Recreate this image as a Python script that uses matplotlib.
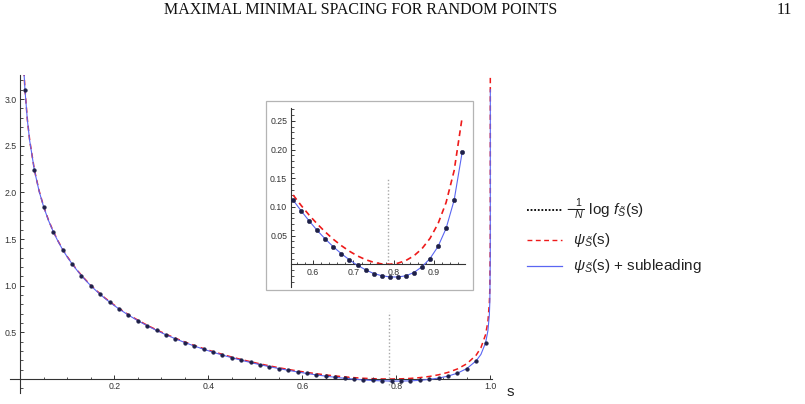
import matplotlib
matplotlib.use("Agg")
import matplotlib.pyplot as plt
from matplotlib.lines import Line2D
from matplotlib.patches import Rectangle
from matplotlib.ticker import MultipleLocator, FixedLocator, FixedFormatter
import numpy as np

# ---------------- data ----------------
s_curve = [0.006, 0.007, 0.008, 0.01, 0.015, 0.02, 0.03, 0.04, 0.05, 0.06, 0.07, 0.08, 0.09, 0.10,
           0.11, 0.12, 0.13, 0.14, 0.15, 0.16, 0.17, 0.18, 0.19, 0.20, 0.21, 0.23, 0.25, 0.27, 0.29,
           0.31, 0.33, 0.35, 0.37, 0.39, 0.41, 0.43, 0.45, 0.47, 0.49, 0.51, 0.53, 0.55, 0.57, 0.59,
           0.61, 0.63, 0.65, 0.67, 0.69, 0.71, 0.73, 0.75, 0.77, 0.79, 0.81, 0.83, 0.85, 0.87, 0.89,
           0.91, 0.93, 0.95, 0.97, 0.98, 0.99, 0.995, 0.998, 0.999, 0.9999, 0.99999, 0.999999,
           0.9999999, 0.99999999]

# leading order psi_S(s)  (red dashed)
psi_leading = [3.499, 3.379, 3.274, 3.099, 2.782, 2.557, 2.241, 2.017, 1.844, 1.703, 1.584, 1.482, 1.391, 1.311,
               1.239, 1.173, 1.112, 1.057, 1.005, 0.957, 0.912, 0.869, 0.830, 0.792, 0.756, 0.690, 0.631, 0.576, 0.526,
               0.480, 0.437, 0.397, 0.360, 0.326, 0.294, 0.264, 0.235, 0.209, 0.185, 0.162, 0.141, 0.1209, 0.1026, 0.0857,
               0.0703, 0.0563, 0.0436, 0.0325, 0.0228, 0.0146, 0.0082, 0.0035, 0.0007, 0.0001, 0.0019, 0.0066, 0.0148,
               0.0272, 0.0452, 0.0708, 0.1077, 0.1632, 0.2564, 0.335, 0.476, 0.621, 0.815, 0.963, 1.457, 1.951, 2.445,
               2.939, 3.433]

# psi_S(s) + subleading  (blue solid)
psi_sub = [3.495, 3.375, 3.270, 3.095, 2.778, 2.553, 2.237, 2.013, 1.840, 1.699, 1.580, 1.478, 1.387, 1.307,
           1.235, 1.169, 1.108, 1.052, 1.000, 0.952, 0.907, 0.864, 0.825, 0.787, 0.751, 0.685, 0.625, 0.571, 0.520,
           0.474, 0.431, 0.391, 0.354, 0.319, 0.287, 0.2566, 0.2282, 0.2017, 0.1770, 0.1537, 0.1321, 0.1120, 0.0932,
           0.0755, 0.0590, 0.0440, 0.0305, 0.0184, 0.0078, -0.0018, -0.0095, -0.0160, -0.0198, -0.0220, -0.0221,
           -0.0200, -0.0143, -0.0043, 0.0100, 0.0311, 0.0626, 0.1118, 0.1955, 0.263, 0.389, 0.52, 0.69, 0.83, 1.29,
           1.74, 2.19, 2.65, 3.10]

# sampled -1/N log f_S(s)  (black points)
s_points = [0.01, 0.03, 0.05, 0.07, 0.09, 0.11, 0.13, 0.15, 0.17, 0.19, 0.21, 0.23, 0.25, 0.27, 0.29,
            0.31, 0.33, 0.35, 0.37, 0.39, 0.41, 0.43, 0.45, 0.47, 0.49, 0.51, 0.53, 0.55, 0.57, 0.59,
            0.61, 0.63, 0.65, 0.67, 0.69, 0.71, 0.73, 0.75, 0.77, 0.79, 0.81, 0.83, 0.85, 0.87, 0.89,
            0.91, 0.93, 0.95, 0.97, 0.99]
logf_points = [3.095, 2.237, 1.840, 1.580, 1.387, 1.235, 1.108, 1.000, 0.907, 0.825, 0.751, 0.685, 0.625, 0.571,
               0.520, 0.474, 0.431, 0.391, 0.354, 0.319, 0.287, 0.2566, 0.2282, 0.2017, 0.1770, 0.1537, 0.1321,
               0.1120, 0.0932, 0.0755, 0.0590, 0.0440, 0.0305, 0.0184, 0.0078, -0.0018, -0.0095, -0.0160, -0.0198,
               -0.0220, -0.0221, -0.0200, -0.0143, -0.0043, 0.0100, 0.0311, 0.0626, 0.1118, 0.1955, 0.389]

s_star = 0.785          # position of the grey dotted marker
main_marker_y = [-0.06, 0.72]
inset_marker_y = [0.0, 0.15]
inset_range = [0.55, 0.97]

main_xticks = [0.2, 0.4, 0.6, 0.8, 1.0]
main_xlabels = ["0.2", "0.4", "0.6", "0.8", "1.0"]
main_yticks = [0.5, 1.0, 1.5, 2.0, 2.5, 3.0]
main_ylabels = ["0.5", "1.0", "1.5", "2.0", "2.5", "3.0"]
inset_xticks = [0.6, 0.7, 0.8, 0.9]
inset_xlabels = ["0.6", "0.7", "0.8", "0.9"]
inset_yticks = [0.05, 0.10, 0.15, 0.20, 0.25]
inset_ylabels = ["0.05", "0.10", "0.15", "0.20", "0.25"]

legend_labels = ["\u2212" + r"$\frac{1}{N}$ log $f_{\tilde{S}}$(s)",
                 r"$\psi_{\tilde{S}}$(s)",
                 r"$\psi_{\tilde{S}}$(s) + subleading"]

# ---------------- style ----------------
plt.rcParams["font.family"] = ["Liberation Sans", "DejaVu Sans"]
plt.rcParams["mathtext.fontset"] = "custom"
plt.rcParams["mathtext.rm"] = "Liberation Sans"
plt.rcParams["mathtext.it"] = "Liberation Sans:italic"
plt.rcParams["mathtext.bf"] = "Liberation Sans:bold"

W, H = 805, 404
RED = "#ee1a1a"
BLUE = "#5a66f2"
DOT = "#1e2048"
AX = "#333333"
TXT = "#333333"
GREY = "#a8a8a8"

fig = plt.figure(figsize=(W / 100, H / 100), dpi=100)


def fx(x):
    return x / W


def fy(y):
    return 1 - y / H


def style_axes(ax, xt, xl, yt, yl, xminor, yminor):
    for side in ("top", "right"):
        ax.spines[side].set_visible(False)
    ax.spines["bottom"].set_position(("data", 0))
    for side in ("left", "bottom"):
        ax.spines[side].set_color(AX)
        ax.spines[side].set_linewidth(0.8)
    ax.xaxis.set_major_locator(FixedLocator(xt))
    ax.xaxis.set_major_formatter(FixedFormatter(xl))
    ax.yaxis.set_major_locator(FixedLocator(yt))
    ax.yaxis.set_major_formatter(FixedFormatter(yl))
    ax.xaxis.set_minor_locator(MultipleLocator(xminor))
    ax.yaxis.set_minor_locator(MultipleLocator(yminor))
    ax.tick_params(which="major", direction="in", length=3.2, width=0.7, color=AX,
                   labelsize=6.3, labelcolor=TXT, pad=2.5)
    ax.tick_params(which="minor", direction="in", length=1.8, width=0.6, color=AX)
    ax.set_facecolor("none")


# ---------------- main axes ----------------
ax = fig.add_axes([fx(10), fy(393), fx(482), 318 / H])
ax.set_xlim(-0.0219, 1.0036)
ax.set_ylim(-0.150, 3.258)
style_axes(ax, main_xticks, main_xlabels, main_yticks, main_ylabels, 0.05, 0.1)
ax.spines["left"].set_position(("data", 0))

ax.plot([s_star, s_star], main_marker_y, color=GREY, lw=1.0, ls=(0, (1, 1.5)), zorder=1)
ax.plot(s_curve, psi_leading, color=RED, lw=1.1, ls=(0, (3.5, 2.5)), zorder=2)
ax.plot(s_curve, psi_sub, color=BLUE, lw=0.8, zorder=3)
ax.plot(s_points, logf_points, ls="none", marker="o", ms=2.7, color=DOT, mec=DOT, mew=0.3, zorder=4)

fig.text(fx(510), fy(392), "s", fontsize=11, ha="center", va="center", color="#222222")

# ---------------- inset ----------------
fig.add_artist(Rectangle((fx(266), fy(290)), fx(207), 189 / H, transform=fig.transFigure,
                         facecolor="white", edgecolor="#b4b4b4", lw=0.9, zorder=5))
ins = fig.add_axes([fx(290.7), fy(286.7), fx(174.3), 178.4 / H], zorder=6)
ins.set_xlim(0.544, 0.977)
ins.set_ylim(-0.039, 0.272)
style_axes(ins, inset_xticks, inset_xlabels, inset_yticks, inset_ylabels, 0.02, 0.01)

sc = np.array(s_curve)
m = (sc >= inset_range[0] - 1e-9) & (sc <= inset_range[1] + 1e-9)
sp = np.array(s_points)
mp = (sp >= inset_range[0] - 1e-9) & (sp <= inset_range[1] + 1e-9)
ins.plot([s_star, s_star], inset_marker_y, color=GREY, lw=1.0, ls=(0, (1, 1.5)), zorder=1)
ins.plot(sc[m], np.array(psi_leading)[m], color=RED, lw=1.2, ls=(0, (3.5, 2.5)), zorder=2)
ins.plot(sc[m], np.array(psi_sub)[m], color=BLUE, lw=0.8, zorder=3)
ins.plot(sp[mp], np.array(logf_points)[mp], ls="none", marker="o", ms=3.2, color=DOT, mec=DOT,
         mew=0.3, zorder=4)

# ---------------- legend ----------------
leg_rows = [210, 240, 266]
leg_styles = [dict(color="black", lw=1.3, ls=(0, (1, 1))),
              dict(color=RED, lw=1.0, ls=(0, (3.5, 2.5))),
              dict(color=BLUE, lw=0.9, ls="-")]
leg_text_x = [566, 573, 573]
for yrow, st, lab, tx in zip(leg_rows, leg_styles, legend_labels, leg_text_x):
    fig.add_artist(Line2D([fx(527), fx(562)], [fy(yrow), fy(yrow)], transform=fig.transFigure, **st))
    fig.text(fx(tx), fy(yrow), lab, fontsize=11, ha="left", va="center", color="#222222")

# ---------------- page header ----------------
fig.text(fx(361), fy(10), "MAXIMAL MINIMAL SPACING FOR RANDOM POINTS", fontsize=11.5,
         family="Liberation Serif", ha="center", va="center", color="#111111")
fig.text(fx(792), fy(10), "11", fontsize=11.5, family="Liberation Serif", ha="right",
         va="center", color="#111111")

fig.savefig("out.png", dpi=100)
